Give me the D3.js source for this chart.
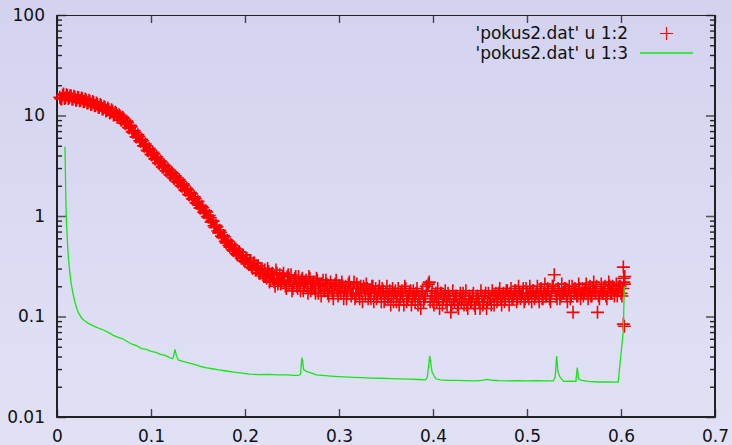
<!DOCTYPE html>
<html><head><meta charset="utf-8">
<script src="https://cdn.jsdelivr.net/npm/d3@7"></script>
<style>
html,body{margin:0;padding:0;}
body{width:732px;height:445px;overflow:hidden;background:linear-gradient(#d3d3f0,#e1e1f5);}
svg{display:block;}
</style></head><body>
<svg id="chart" width="732" height="445"></svg>
<script>
// ---- data ----
const redX = [
0.003,0.005,0.007,0.009,0.011,0.013,0.015,0.017,0.019,0.021,
0.023,0.025,0.027,0.029,0.031,0.033,0.035,0.037,0.039,0.041,
0.043,0.045,0.047,0.049,0.051,0.053,0.055,0.057,0.059,0.061,
0.063,0.065,0.067,0.069,0.071,0.073,0.075,0.077,0.079,0.081,
0.083,0.085,0.087,0.089,0.091,0.093,0.095,0.097,0.099,0.101,
0.103,0.105,0.107,0.109,0.111,0.113,0.115,0.117,0.119,0.121,
0.123,0.125,0.127,0.129,0.131,0.133,0.135,0.137,0.139,0.141,
0.143,0.145,0.147,0.149,0.151,0.153,0.155,0.157,0.159,0.161,
0.163,0.165,0.167,0.169,0.171,0.173,0.175,0.177,0.179,0.181,
0.183,0.185,0.187,0.189,0.191,0.193,0.195,0.197,0.199,0.201,
0.203,0.205,0.207,0.209,0.211,0.213,0.215,0.217,0.219,0.221,
0.223,0.225,0.227,0.229,0.231,0.233,0.235,0.237,0.239,0.241,
0.243,0.245,0.247,0.249,0.251,0.253,0.255,0.257,0.259,0.261,
0.263,0.265,0.267,0.269,0.271,0.273,0.275,0.277,0.279,0.281,
0.283,0.285,0.287,0.289,0.291,0.293,0.295,0.297,0.299,0.301,
0.303,0.305,0.307,0.309,0.311,0.313,0.315,0.317,0.319,0.321,
0.323,0.325,0.327,0.329,0.331,0.333,0.335,0.337,0.339,0.341,
0.343,0.345,0.347,0.349,0.351,0.353,0.355,0.357,0.359,0.361,
0.363,0.365,0.367,0.369,0.371,0.373,0.375,0.377,0.379,0.381,
0.383,0.385,0.387,0.389,0.391,0.393,0.395,0.397,0.399,0.401,
0.403,0.405,0.407,0.409,0.411,0.413,0.415,0.417,0.419,0.421,
0.423,0.425,0.427,0.429,0.431,0.433,0.435,0.437,0.439,0.441,
0.443,0.445,0.447,0.449,0.451,0.453,0.455,0.457,0.459,0.461,
0.463,0.465,0.467,0.469,0.471,0.473,0.475,0.477,0.479,0.481,
0.483,0.485,0.487,0.489,0.491,0.493,0.495,0.497,0.499,0.501,
0.503,0.505,0.507,0.509,0.511,0.513,0.515,0.517,0.519,0.521,
0.523,0.525,0.527,0.529,0.531,0.533,0.535,0.537,0.539,0.541,
0.543,0.545,0.547,0.549,0.551,0.553,0.555,0.557,0.559,0.561,
0.563,0.565,0.567,0.569,0.571,0.573,0.575,0.577,0.579,0.581,
0.583,0.585,0.587,0.589,0.591,0.593,0.595,0.597,0.599,0.601,
0.603,
0.6025,0.6025,0.6035,0.604,0.6035,0.603
];
const redY = [
15.2,14.6,16.4,15.0,15.9,15.1,15.6,14.6,15.3,14.3,
15.0,14.1,14.7,13.8,14.3,13.4,13.9,13.0,13.5,12.6,
12.9,12.1,12.6,11.6,12.0,11.2,11.5,10.7,11.1,10.2,
10.5,9.6,9.9,9.0,9.3,8.3,8.5,7.5,7.7,6.8,
6.8,6.1,6.2,5.5,5.6,4.95,5.0,4.45,4.55,4.05,
4.15,3.68,3.72,3.33,3.42,3.05,3.1,2.8,2.85,2.56,
2.64,2.36,2.42,2.17,2.22,1.98,2.02,1.79,1.82,1.62,
1.66,1.47,1.49,1.33,
1.28,1.2,1.21,1.08,1.1,0.97,0.96,0.9,0.8,0.81,
0.71,0.72,0.63,0.64,0.56,0.57,0.51,0.52,0.46,0.48,
0.42,0.44,0.4,0.41,0.36,0.38,0.34,0.36,0.31,0.34,
0.29,0.32,0.27,0.3,0.26,
0.29,0.24,0.28,0.23,0.27,0.22,0.29,0.21,0.26,0.22,
0.27,0.2,0.25,0.21,0.26,0.19,0.24,0.2,0.25,0.18,
0.24,0.21,0.23,0.17,0.24,0.19,0.22,0.17,0.23,0.2,
0.16,0.23,0.18,0.21,0.16,0.22,0.17,0.2,0.23,0.16,
0.19,0.22,0.15,0.2,0.17,0.22,0.16,0.19,0.15,0.21,
0.17,0.2,0.14,0.19,0.21,0.15,0.18,0.2,0.14,0.19,
0.16,0.2,0.14,0.18,0.15,0.2,0.16,0.13,0.19,0.17,
0.14,0.19,0.15,0.18,0.13,0.19,0.15,0.17,0.13,0.18,
0.14,0.19,0.16,0.12,0.18,0.15,0.2,0.21,0.14,0.18,
0.13,0.17,0.19,0.12,0.17,0.15,0.18,0.13,0.16,0.11,
0.18,0.14,0.16,0.12,0.17,0.15,0.13,0.18,0.12,0.16,
0.14,0.17,0.12,0.16,0.14,0.18,0.13,0.16,0.12,0.17,
0.15,0.18,0.13,0.17,0.15,0.19,0.13,0.17,0.15,0.18,
0.13,0.19,0.15,0.18,0.14,0.2,0.15,0.17,0.14,0.19,
0.16,0.2,0.14,0.18,0.16,0.2,0.14,0.19,0.15,0.21,
0.16,0.18,0.14,0.2,0.26,0.16,0.19,0.15,0.21,0.17,
0.19,0.14,0.2,0.16,0.11,0.19,0.16,0.21,0.15,0.19,
0.17,0.21,0.15,0.2,0.16,0.22,0.17,0.11,0.15,0.21,
0.17,0.2,0.15,0.22,0.17,0.2,0.16,0.21,0.18,0.2,
0.16,0.22,
0.31,0.084,0.08,0.25,0.21,0.24
];
const redX2 = [
0.004,0.006,0.008,0.010,0.012,0.014,0.016,0.018,0.020,0.022,
0.024,0.026,0.028,0.030,0.032,0.034,0.036,0.038,0.040,0.042,
0.044,0.046,0.048,0.050,0.052,0.054,0.056,0.058,0.060,0.062,
0.064,0.066,0.068,0.070,0.072,0.074,0.076,0.078,0.080,0.082,
0.084,0.086,0.088,0.090,0.092,0.094,0.096,0.098,0.100,0.102,
0.104,0.106,0.108,0.110,0.112,0.114,0.116,0.118,0.120,0.122,
0.124,0.126,0.128,0.130,0.132,0.134,0.136,0.138,0.140,0.142,
0.144,0.146,0.148,0.150,0.152,0.154,0.156,0.158,0.160,0.162,
0.164,0.166,0.168,0.170,0.172,0.174,0.176,0.178,0.180,0.182,
0.184,0.186,0.188,0.190,0.192,0.194,0.196,0.198,0.200,0.202,
0.204,0.206,0.208,0.210,0.212,0.214,0.216,0.218,0.220,0.222,
0.224,0.226,0.228,0.230,0.232,0.234,0.236,0.238,0.240,0.242,
0.244,0.246,0.248,0.250,0.252,0.254,0.256,0.258,0.260,0.262,
0.264,0.266,0.268,0.270,0.272,0.274,0.276,0.278,0.280,0.282,
0.284,0.286,0.288,0.290,0.292,0.294,0.296,0.298,0.300,0.302,
0.304,0.306,0.308,0.310,0.312,0.314,0.316,0.318,0.320,0.322,
0.324,0.326,0.328,0.330,0.332,0.334,0.336,0.338,0.340,0.342,
0.344,0.346,0.348,0.350,0.352,0.354,0.356,0.358,0.360,0.362,
0.364,0.366,0.368,0.370,0.372,0.374,0.376,0.378,0.380,0.382,
0.384,0.386,0.388,0.390,0.392,0.394,0.396,0.398,0.400,0.402,
0.404,0.406,0.408,0.410,0.412,0.414,0.416,0.418,0.420,0.422,
0.424,0.426,0.428,0.430,0.432,0.434,0.436,0.438,0.440,0.442,
0.444,0.446,0.448,0.450,0.452,0.454,0.456,0.458,0.460,0.462,
0.464,0.466,0.468,0.470,0.472,0.474,0.476,0.478,0.480,0.482,
0.484,0.486,0.488,0.490,0.492,0.494,0.496,0.498,0.500,0.502,
0.504,0.506,0.508,0.510,0.512,0.514,0.516,0.518,0.520,0.522,
0.524,0.526,0.528,0.530,0.532,0.534,0.536,0.538,0.540,0.542,
0.544,0.546,0.548,0.550,0.552,0.554,0.556,0.558,0.560,0.562,
0.564,0.566,0.568,0.570,0.572,0.574,0.576,0.578,0.580,0.582,
0.584,0.586,0.588,0.590,0.592,0.594,0.596,0.598,0.600,0.602
];
const redY2 = [
14.7,15.9,14.8,16.1,14.8,15.8,14.5,15.5,14.2,15.2,
14.0,14.9,13.7,14.6,13.3,14.2,12.9,13.8,12.5,13.3,
12.0,12.9,11.6,12.3,11.1,11.9,10.6,11.4,10.1,10.8,
9.6,10.2,9.0,9.6,8.4,8.8,7.6,8.0,6.9,7.1,
6.15,6.45,5.6,5.8,5.0,5.2,4.5,4.7,4.1,4.3,
3.72,3.88,3.36,3.52,3.08,3.22,2.82,2.95,2.58,2.72,
2.39,2.5,2.2,2.3,2.0,2.09,1.82,1.88,1.64,1.71,
1.49,1.55,1.35,1.4,
1.2,1.25,1.09,1.13,0.99,1.01,0.87,0.89,0.77,0.78,
0.68,0.69,0.61,0.62,0.54,0.56,0.49,0.51,0.45,0.47,
0.41,0.44,0.38,0.41,0.35,0.38,0.33,0.36,0.3,0.34,
0.29,0.32,0.27,0.3,0.25,
0.25,0.3,0.22,0.26,0.24,0.2,0.27,0.23,0.21,0.25,
0.22,0.19,0.26,0.23,0.18,0.22,0.25,0.19,0.21,0.23,
0.18,0.22,0.2,0.25,0.18,0.21,0.19,0.24,0.17,0.2,
0.21,0.18,0.23,0.17,0.2,0.19,0.15,0.21,0.18,0.2,
0.17,0.2,0.18,0.15,0.21,0.19,0.17,0.22,0.16,0.19,
0.15,0.18,0.2,0.16,0.19,0.17,0.15,0.2,0.17,0.15,
0.18,0.17,0.19,0.14,0.17,0.15,0.18,0.16,0.14,0.18,
0.16,0.13,0.17,0.16,0.2,0.14,0.16,0.18,0.15,0.16,
0.17,0.13,0.15,0.17,0.14,0.16,0.18,0.22,0.16,0.14,
0.16,0.14,0.15,0.17,0.13,0.16,0.14,0.17,0.15,0.13,
0.15,0.16,0.13,0.15,0.14,0.17,0.15,0.13,0.15,0.14,
0.16,0.13,0.15,0.15,0.12,0.16,0.14,0.17,0.14,0.15,
0.13,0.16,0.16,0.14,0.17,0.15,0.16,0.14,0.18,0.16,
0.17,0.15,0.16,0.18,0.15,0.17,0.16,0.19,0.15,0.17,
0.15,0.17,0.18,0.15,0.17,0.16,0.18,0.15,0.17,0.16,
0.19,0.15,0.17,0.2,0.18,0.15,0.18,0.16,0.17,0.19,
0.16,0.18,0.15,0.2,0.17,0.18,0.16,0.19,0.17,0.16,
0.19,0.17,0.18,0.16,0.19,0.18,0.2,0.16,0.18,0.17,
0.19,0.16,0.18,0.2,0.17,0.19,0.18,0.16,0.2,0.17,
0.19
];
const greenX = [
0.0085,0.009,0.0095,0.010,0.011,0.012,0.0135,0.015,0.017,0.019,
0.021,0.023,0.026,0.029,0.033,0.037,0.041,0.045,0.050,0.055,
0.060,0.065,0.070,0.075,0.080,0.085,0.090,0.095,0.100,0.105,
0.110,0.115,0.120,0.123,0.124,0.1255,0.127,0.129,0.133,0.138,
0.143,0.148,0.153,0.158,0.165,0.172,0.180,0.188,0.195,0.205,
0.215,0.225,0.235,0.245,0.252,0.257,0.259,0.2605,0.2625,0.266,
0.270,0.276,0.285,0.295,0.305,0.315,0.325,0.335,0.345,0.355,
0.365,0.375,0.385,0.392,0.394,0.3965,0.399,0.403,0.408,0.415,
0.425,0.435,0.445,0.452,0.458,0.463,0.470,0.480,0.490,0.500,
0.510,0.520,0.528,0.530,0.5315,0.533,0.535,0.539,0.545,0.552,
0.5535,0.555,0.558,0.565,0.575,0.585,0.597,0.6025,0.6035
];
const greenY = [
4.9,2.5,1.3,0.9,0.58,0.40,0.28,0.215,0.17,0.14,
0.12,0.108,0.097,0.091,0.086,0.082,0.079,0.076,0.073,0.069,
0.065,0.062,0.060,0.056,0.053,0.051,0.048,0.047,0.045,0.044,
0.042,0.041,0.039,0.038,0.040,0.047,0.041,0.037,0.036,0.035,
0.034,0.033,0.0318,0.031,0.0302,0.0294,0.0287,0.028,0.0275,0.0267,
0.0264,0.0266,0.0262,0.0263,0.026,0.0259,0.0265,0.039,0.0295,0.0283,
0.0275,0.0262,0.0258,0.0254,0.0251,0.0248,0.0246,0.0244,0.0243,0.0241,
0.024,0.0238,0.0236,0.0234,0.025,0.0405,0.028,0.024,0.0234,0.0232,
0.0231,0.023,0.0229,0.0231,0.0237,0.0232,0.023,0.0229,0.023,0.0229,
0.023,0.0229,0.0229,0.025,0.0405,0.028,0.025,0.0226,0.0227,0.0226,
0.031,0.024,0.0231,0.0226,0.0223,0.0224,0.0222,0.073,0.2
];
const xTickValues = [0,0.1,0.2,0.3,0.4,0.5,0.6,0.7];
const xTickLabels = ["0","0.1","0.2","0.3","0.4","0.5","0.6","0.7"];
const yTickValues = [0.01,0.1,1,10,100];
const yTickLabels = ["0.01","0.1","1","10","100"];
const yMinorTicks = [0.02,0.03,0.04,0.05,0.06,0.07,0.08,0.09,
  0.2,0.3,0.4,0.5,0.6,0.7,0.8,0.9,2,3,4,5,6,7,8,9,20,30,40,50,60,70,80,90];
const legendLabels = ["'pokus2.dat' u 1:2","'pokus2.dat' u 1:3"];

// ---- drawing ----
const L = 57, R = 715, T = 15, B = 417;
const svg = d3.select("#chart");
const x = d3.scaleLinear().domain([0, 0.7]).range([L, R]);
const y = d3.scaleLog().domain([0.01, 100]).range([B, T]);
const FONT = "'DejaVu Sans', sans-serif";

function styleAxis(g, color, width) {
  g.select(".domain").remove();
  g.attr("font-family", FONT).attr("font-size", 17);
  g.selectAll("line").attr("stroke", color).attr("stroke-width", width);
  g.selectAll("text").attr("fill", "#111");
}

svg.append("g").attr("transform", `translate(${L},0)`)
  .call(d3.axisLeft(y).tickValues(yTickValues).tickFormat((d, i) => yTickLabels[i]).tickSize(-9).tickPadding(12))
  .call(g => styleAxis(g, "#555", 1.6));
svg.append("g").attr("transform", `translate(${L},0)`)
  .call(d3.axisLeft(y).tickValues(yMinorTicks).tickFormat("").tickSize(-5))
  .call(g => styleAxis(g, "#222", 1.4));
svg.append("g").attr("transform", `translate(${R},0)`)
  .call(d3.axisRight(y).tickValues(yTickValues).tickFormat("").tickSize(-9))
  .call(g => styleAxis(g, "#555", 1.6));
svg.append("g").attr("transform", `translate(${R},0)`)
  .call(d3.axisRight(y).tickValues(yMinorTicks).tickFormat("").tickSize(-5))
  .call(g => styleAxis(g, "#222", 1.4));
svg.append("g").attr("transform", `translate(0,${B})`)
  .call(d3.axisBottom(x).tickValues(xTickValues).tickFormat((d, i) => xTickLabels[i]).tickSize(-8).tickPadding(13))
  .call(g => styleAxis(g, "#444", 1.4));
svg.append("g").attr("transform", `translate(0,${T})`)
  .call(d3.axisTop(x).tickValues(xTickValues).tickFormat("").tickSize(-8))
  .call(g => styleAxis(g, "#444", 1.4));

const frame = svg.append("g").attr("stroke", "#222").attr("fill", "none");
frame.append("line").attr("x1", L).attr("x2", R).attr("y1", T + 0.5).attr("y2", T + 0.5).attr("stroke-width", 1.2);
frame.append("line").attr("x1", L).attr("x2", L).attr("y1", T).attr("y2", B + 1).attr("stroke-width", 2);
frame.append("line").attr("x1", R).attr("x2", R).attr("y1", T).attr("y2", B + 1).attr("stroke-width", 2);
frame.append("line").attr("x1", L - 1).attr("x2", R + 1).attr("y1", B).attr("y2", B).attr("stroke-width", 2);

// red "+" points (two interleaved sets of samples)
const redPts = redX.map((v, i) => [v, redY[i]])
  .concat(redX2.map((v, i) => [v, redY2[i]]))
  .filter(d => d[1] !== undefined);
const plus = "M-6.5,0H6.5M0,-6.5V6.5";
svg.append("g").attr("stroke", "#ff0000").attr("stroke-width", 1.6).attr("fill", "none")
  .selectAll("path").data(redPts).join("path")
  .attr("transform", d => `translate(${x(d[0])},${y(d[1])})`)
  .attr("d", plus);

// green line
const greenPts = greenX.map((v, i) => [v, greenY[i]]);
svg.append("path").datum(greenPts)
  .attr("fill", "none").attr("stroke", "#16e616").attr("stroke-width", 1.3)
  .attr("d", d3.line().x(d => x(d[0])).y(d => y(d[1])));

// legend
const leg = svg.append("g").attr("font-family", FONT).attr("font-size", 17).attr("fill", "#111");
leg.append("text").attr("x", 628).attr("y", 39).attr("text-anchor", "end").text(legendLabels[0]);
leg.append("text").attr("x", 628).attr("y", 59).attr("text-anchor", "end").text(legendLabels[1]);
svg.append("path").attr("transform", "translate(666.5,33.5)").attr("d", plus)
  .attr("stroke", "#ff0000").attr("stroke-width", 1.1).attr("fill", "none");
svg.append("line").attr("x1", 640).attr("x2", 693).attr("y1", 53).attr("y2", 53)
  .attr("stroke", "#16e616").attr("stroke-width", 1.3);
</script>
</body></html>
